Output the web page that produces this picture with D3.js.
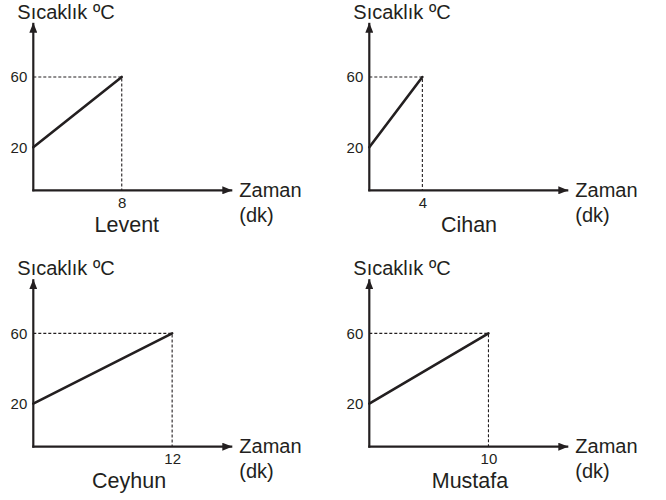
<!DOCTYPE html>
<html>
<head>
<meta charset="utf-8">
<script src="https://cdn.jsdelivr.net/npm/d3@7"></script>
<style>
  html, body { margin: 0; padding: 0; background: #fff; }
  svg { display: block; }
  svg text { font-family: "Liberation Sans", Arial, Helvetica, sans-serif; }
</style>
</head>
<body>
<svg id="chart" width="666" height="500"></svg>
<script>
// ---- data ----
const names = ["Levent", "Cihan", "Ceyhun", "Mustafa"];
const times = [8, 4, 12, 10];          // dk
const startTemps = [20, 20, 20, 20];   // ºC
const endTemps = [60, 60, 60, 60];     // ºC
const yTickValues = [20, 60];
const xAxisMax = [18, 15, 17.2, 16.7]; // x-axis extent of each panel (dk)
const yLabel = "Sıcaklık ºC";
const xLabel = "Zaman";
const xUnit = "(dk)";

// ---- layout ----
const originX = [33.3, 369.3, 33.3, 369.3];
const originY = [190.3, 190.3, 446.7, 446.7];
const nameDx = [93.5, 99.7, 95.8, 100.7];
const xLen = 199, yLen = 167.5;
const ink = "#231f20";

const svg = d3.select("#chart");
const defs = svg.append("defs");
defs.append("marker")
  .attr("id", "arrow")
  .attr("markerUnits", "userSpaceOnUse")
  .attr("viewBox", "0 0 10 8")
  .attr("refX", 10).attr("refY", 4)
  .attr("markerWidth", 10).attr("markerHeight", 8)
  .attr("orient", "auto")
  .append("path").attr("d", "M0,0 L10,4 L0,8 Z").attr("fill", ink);

const y = d3.scaleLinear().domain([20, 60]).range([-43, -113.3]);

names.forEach((name, i) => {
  const g = svg.append("g").attr("transform", `translate(${originX[i]},${originY[i]})`);
  const x = d3.scaleLinear().domain([0, xAxisMax[i]]).range([0, xLen]);

  // dotted guides
  g.append("path")
    .attr("d", `M${x(0)},${y(endTemps[i])} H${x(times[i])} V0`)
    .attr("fill", "none").attr("stroke", ink)
    .attr("stroke-width", 1.1).attr("stroke-dasharray", "3,2");

  // data line
  g.append("line")
    .attr("x1", x(0)).attr("y1", y(startTemps[i]))
    .attr("x2", x(times[i])).attr("y2", y(endTemps[i]))
    .attr("stroke", ink).attr("stroke-width", 2.6).attr("stroke-linecap", "round");

  // axis lines with arrows
  g.append("line").attr("x1", 0).attr("y1", 1).attr("x2", 0).attr("y2", -yLen)
    .attr("stroke", ink).attr("stroke-width", 2.2).attr("marker-end", "url(#arrow)");
  g.append("line").attr("x1", -1).attr("y1", 0).attr("x2", xLen).attr("y2", 0)
    .attr("stroke", ink).attr("stroke-width", 2.2).attr("marker-end", "url(#arrow)");

  // y ticks
  const ya = g.append("g")
    .call(d3.axisLeft(y).tickValues(yTickValues).tickSize(0).tickPadding(6).tickFormat(d3.format("d")))
    .attr("font-size", null).attr("font-family", null);
  ya.select(".domain").remove();
  ya.selectAll("text")
    .attr("text-anchor", "end")
    .style("font-size", "15px").attr("fill", ink);

  // x tick
  const xa = g.append("g")
    .call(d3.axisBottom(x).tickValues([times[i]]).tickSize(0).tickPadding(7).tickFormat(d3.format("d")))
    .attr("font-size", null).attr("font-family", null);
  xa.select(".domain").remove();
  xa.selectAll("text")
    .attr("text-anchor", "middle")
    .style("font-size", "15px").attr("fill", ink);

  // axis labels
  g.append("text").attr("x", -16).attr("y", -171.5)
    .style("font-size", "20px").attr("fill", ink).text(yLabel);
  g.append("text").attr("x", xLen + 7).attr("y", 6.5)
    .style("font-size", "20px").attr("fill", ink).text(xLabel);
  g.append("text").attr("x", xLen + 7).attr("y", 31.5)
    .style("font-size", "20px").attr("fill", ink).text(xUnit);

  // name
  g.append("text").attr("x", nameDx[i]).attr("y", 41.5)
    .attr("text-anchor", "middle").style("font-size", "21.5px").attr("fill", ink).text(name);
});
</script>
</body>
</html>
